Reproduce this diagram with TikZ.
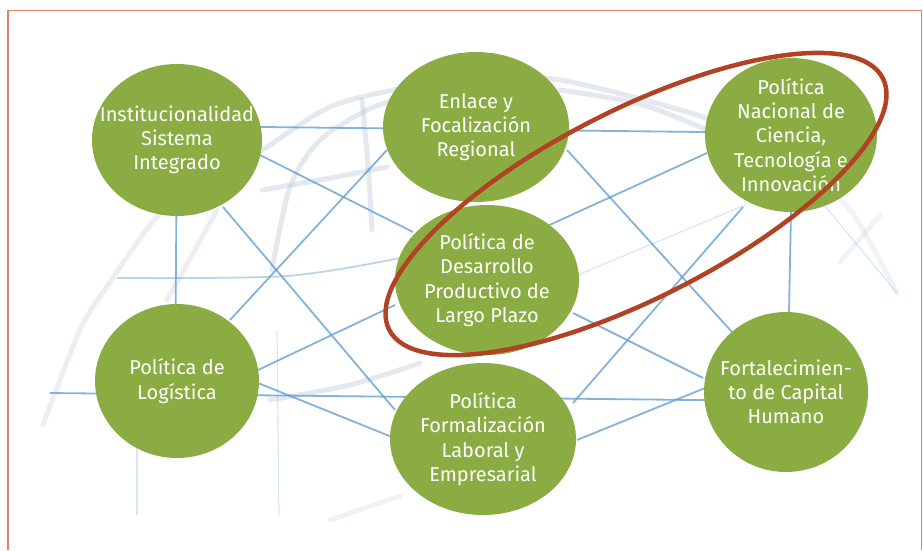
\documentclass[tikz,border=0pt]{standalone}
\usepackage{fontspec}
\setmainfont{Fira Sans}
\usepackage{tikz}
\usetikzlibrary{shapes.geometric}
\usepackage{xcolor}
\definecolor{polgreen}{RGB}{138,172,66}
\definecolor{focusred}{RGB}{178,66,36}
\definecolor{gridblue}{RGB}{100,160,210}
\definecolor{gridgray}{RGB}{176,192,208}
\definecolor{framered}{RGB}{224,128,100}

\begin{document}
\begin{tikzpicture}[x=1pt, y=-1pt,
        bubble/.style={ellipse, fill=polgreen, text=white, align=center, inner sep=-45pt,
          font=\fontsize{20}{24.3}\selectfont},
        gridline/.style={draw=gridblue, line width=1.8pt, opacity=0.8},
        faintline/.style={draw=gridblue, line width=1.2pt, opacity=0.25},
        globearc/.style={draw=gridgray, line width=5pt, opacity=0.35, line cap=round},
        focus/.style={ellipse, draw=focusred, line width=4.5pt, inner sep=0pt}
      ]
        \useasboundingbox (0,0) rectangle (923,550);
        % Frame
        \draw[framered, line width=1.2pt] (8,550) -- (8,10.5) -- (921.5,10.5) -- (921.5,550);

        % Globe: grey arcs
        \draw[globearc, opacity=0.25] plot[smooth] coordinates {(43,425) (80,330) (110,282) (160,213) (210,175)};
        \draw[globearc] plot[smooth] coordinates {(210,175) (262,150) (340,103) (470,78) (560,80) (700,116) (790,155)};
        \draw[globearc, opacity=0.2] plot[smooth] coordinates {(790,155) (850,210) (897,293)};
        \draw[globearc] plot[smooth] coordinates {(560,90) (640,104) (707,130)};
        \draw[globearc, opacity=0.25] plot[smooth] coordinates {(167,300) (217,210)};
        \draw[globearc] plot[smooth] coordinates {(272,270) (290,187) (320,140) (367,110) (395,100)};
        \draw[globearc] plot[smooth] coordinates {(362,100) (368,165) (372,230)};
        \draw[globearc] plot[smooth] coordinates {(262,190) (320,180) (387,167)};
        \draw[globearc] plot[smooth] coordinates {(270,400) (350,385) (420,363)};
        \draw[globearc, opacity=0.2] plot[smooth] coordinates {(330,520) (400,496)};
        \draw[globearc, opacity=0.2] (840,262) -- (880,215);

        % Globe: blue lines
        \draw[gridline] (176,126) -- (791,133);
        \draw[gridline] (50,393) -- (786,401);
        \draw[gridline, opacity=0.45] plot[smooth] coordinates {(117,278) (287,276) (400,258)};
        \draw[gridline] (177,140) -- (175,381);
        \draw[gridline] (223,207) -- (395,410);
        \draw[gridline] (387,150) -- (230,320);
        \draw[gridline] (260,155) -- (413,232);
        \draw[gridline] (258,370) -- (395,305);
        \draw[gridline] (258,383) -- (392,437);
        \draw[gridline] (573,403) -- (743,207);
        \draw[gridline] (577,440) -- (705,388);
        \draw[gridline] (573,313) -- (703,378);
        \draw[gridline] (567,150) -- (732,332);
        \draw[gridline] (791,212) -- (789,312);
        \draw[gridline] (707,153) -- (545,227);
        \draw[faintline] (578,275) -- (745,205);
        \draw[faintline] (137,440) -- (137,515);
        \draw[faintline] (277,330) -- (279,515);
        \draw[faintline] (820,200) -- (897,293);

        % Policy circles
        \node[bubble, minimum width=170pt, minimum height=152pt] (inst) at (177,140) {Institucionalidad\\Sistema\\Integrado};
        \node[bubble, minimum width=186pt, minimum height=150pt] (enlace) at (476,127) {Enlace y\\Focalización\\Regional};
        \node[bubble, minimum width=172pt, minimum height=154pt] (ctci) at (791,135) {Política\\Nacional de\\Ciencia,\\Tecnología e\\Innovación};
        \node[bubble, minimum width=184pt, minimum height=150pt] (desarrollo) at (487,280) {Política de\\Desarrollo\\Productivo de\\Largo Plazo};
        \node[bubble, minimum width=164pt, minimum height=154pt] (logistica) at (177,381) {Política de\\Logística};
        \node[bubble, minimum width=186pt, minimum height=152pt] (formal) at (483,439) {Política\\Formalización\\Laboral y\\Empresarial};
        \node[bubble, minimum width=164pt, minimum height=160pt] (capital) at (786,392) {Fortalecimien-\\to de Capital\\Humano};

        % Highlight round the two long-term policies
        \node[focus, rotate=27, minimum width=554pt, minimum height=188pt] (foco) at (636,204) {};
      \end{tikzpicture}
\end{document}
